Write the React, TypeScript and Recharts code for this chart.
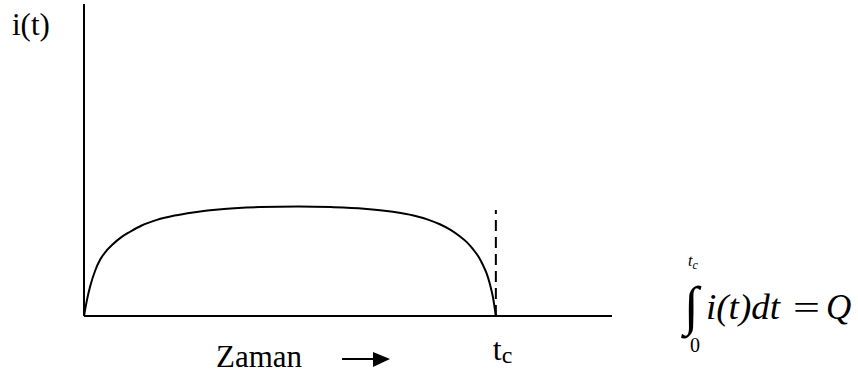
import { LineChart, Line, XAxis, YAxis, ReferenceLine } from 'recharts';

// time axis: t_c sits at 10, the axis runs a bit past it
const TIME = [0, 0.07, 0.15, 0.27, 0.39, 0.55, 0.7, 0.9, 1.12, 1.4, 1.77, 2.2, 2.65, 3.4, 4.27, 5.2, 6.0, 6.8, 7.5, 8.0, 8.35, 8.64, 8.9, 9.13, 9.3, 9.44, 9.58, 9.68, 9.78, 9.85, 9.93, 10];
const CURRENT = [0, 5, 9.5, 14.5, 18, 21, 23, 25.2, 27, 29, 30.8, 32.2, 33.2, 34.3, 34.9, 35.1, 34.9, 34.4, 33.4, 32.2, 30.9, 29.4, 27.6, 25.5, 23.6, 21.5, 19, 16.5, 13.5, 10.5, 6, 0];
const T_C = 10;
const DASH_TOP = 34;
const X_MAX = 12.82;
const Y_MAX = 100;

const data = TIME.map((t, i) => ({ t, i: CURRENT[i] }));

const serif = 'Liberation Serif';

function TcTick({ x, y }: any) {
  return (
    <text x={x - 3} y={y + 36} fontFamily={serif} fill="#000">
      <tspan fontSize={32}>t</tspan>
      <tspan fontSize={24} dy={3}>c</tspan>
    </text>
  );
}

export default function App() {
  return (
    <div style={{ position: 'absolute', left: 0, top: 0, width: 858, height: 378, background: '#fff', fontFamily: serif }}>
      <LineChart width={858} height={378} data={data} margin={{ top: 4, right: 246, bottom: 22, left: 74 }}>
        <XAxis
          dataKey="t"
          type="number"
          domain={[0, X_MAX]}
          ticks={[T_C]}
          tickLine={false}
          tick={<TcTick />}
          height={40}
          stroke="#000"
          axisLine={{ stroke: '#000', strokeWidth: 2 }}
          allowDataOverflow
        />
        <YAxis
          type="number"
          domain={[0, Y_MAX]}
          ticks={[]}
          tick={false}
          tickLine={false}
          width={10}
          stroke="#000"
          axisLine={{ stroke: '#000', strokeWidth: 2 }}
        />
        <ReferenceLine
          segment={[{ x: T_C, y: 0 }, { x: T_C, y: DASH_TOP }]}
          stroke="#000"
          strokeWidth={2}
          strokeDasharray="11 6"
        />
        <Line
          dataKey="i"
          type="monotone"
          stroke="#000"
          strokeWidth={2}
          dot={false}
          isAnimationActive={false}
        />
      </LineChart>
      <svg width={858} height={378} style={{ position: 'absolute', left: 0, top: 0, pointerEvents: 'none' }} fill="#000">
        <text x={12} y={35} fontSize={31} fontFamily={serif}>i(t)</text>
        <text x={216} y={367} fontSize={31} fontFamily={serif}>Zaman</text>
        <line x1={342} y1={359} x2={376} y2={359} stroke="#000" strokeWidth={2} />
        <polygon points="373,352 390,359 373,367" fill="#000" />
        {/* charge integral */}
        <text x={688} y={266} fontSize={16} fontStyle="italic" fontFamily={serif}>t<tspan fontSize={12} dy={3}>c</tspan></text>
        <text x={684} y={324} fontSize={54} fontFamily={serif}>∫</text>
        <text x={690} y={352} fontSize={20} fontFamily={serif}>0</text>
        <text x={706} y={319} fontSize={35} fontStyle="italic" fontFamily={serif} textLength={74} lengthAdjust="spacingAndGlyphs">i(t)dt</text>
        <text x={793} y={319} fontSize={34} fontFamily={serif} textLength={27} lengthAdjust="spacingAndGlyphs">=</text>
        <text x={826} y={319} fontSize={35} fontStyle="italic" fontFamily={serif}>Q</text>
      </svg>
    </div>
  );
}
